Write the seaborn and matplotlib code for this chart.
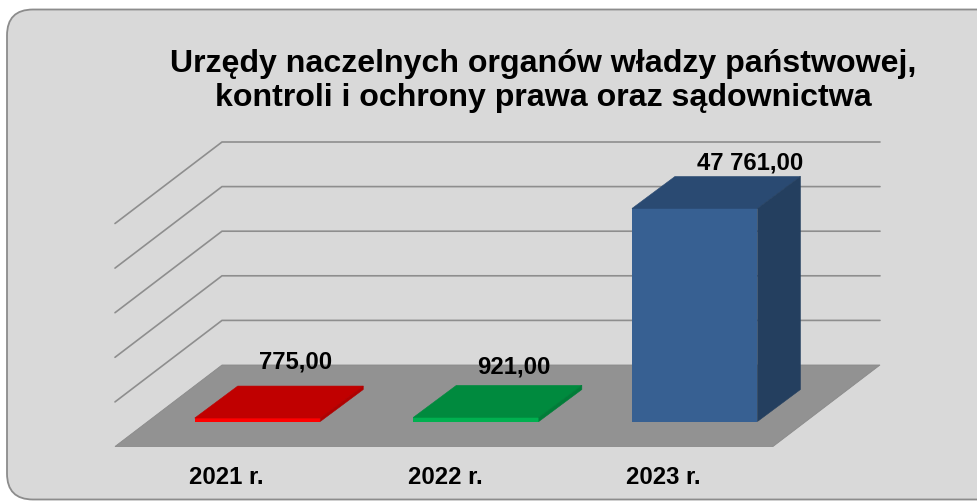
import matplotlib
matplotlib.use("Agg")
import matplotlib.pyplot as plt
import seaborn as sns
from matplotlib.patches import FancyBboxPatch, Polygon
from matplotlib.transforms import IdentityTransform, ScaledTranslation

# data
years = ["2021 r.", "2022 r.", "2023 r."]
values = [775.00, 921.00, 47761.00]
value_labels = ["775,00", "921,00", "47 761,00"]
grid_values = [0, 10000, 20000, 30000, 40000, 50000]
title = "Urzędy naczelnych organów władzy państwowej,\nkontroli i ochrony prawa oraz sądownictwa"

# styles
front_colors = ["#ff0000", "#00b050", "#376092"]
top_colors = ["#c00000", "#008a3e", "#2a4a72"]
side_colors = ["#b00000", "#007d38", "#243f5f"]
PANEL = "#d9d9d9"; FLOOR = "#929292"; GRID = "#8e8e8e"

W, H = 977, 501
fig = plt.figure(figsize=(W / 100, H / 100), dpi=100, facecolor="white")
sns.set_style("white")
plt.rcParams["font.family"] = ["Liberation Sans", "DejaVu Sans"]

# plot frame in pixels
L, R, T, B = 115.0, 880.0, 142.0, 446.5
ax = fig.add_axes([L / W, 1 - B / H, (R - L) / W, (B - T) / H])
ax.patch.set_alpha(0)
for s in ax.spines.values():
    s.set_visible(False)

PX_X = 218.6      # pixels per category
PX_Y = 0.00446    # pixels per unit value
C0 = 257.5        # pixel centre of category 0
Y0 = 421.5        # pixel of value 0 in the bar plane

panel = FancyBboxPatch((7, H - 499.5), 1040, 490, boxstyle="round,pad=0,rounding_size=26",
                       transform=IdentityTransform(), fc=PANEL, ec="#8c8c8c", lw=1.3, zorder=-5, clip_on=False)
fig.add_artist(panel)

sns.barplot(x=years, y=values, hue=years, palette=front_colors, saturation=1, width=125.5 / PX_X,
            legend=False, ax=ax, zorder=5, linewidth=0, edgecolor="none")
ax.set_xlim((L - C0) / PX_X, (R - C0) / PX_X)
ax.set_ylim((Y0 - B) / PX_Y, (Y0 - T) / PX_Y)
ax.set_yticks([])
ax.set_ylabel("")
ax.tick_params(axis="x", length=0, pad=14)
for lab in ax.get_xticklabels():
    lab.set_fontsize(17.2); lab.set_fontweight("bold"); lab.set_color("black")
    lab.set_transform(lab.get_transform() + ScaledTranslation(-31 / 100, 0, fig.dpi_scale_trans))

def xd(px): return px / PX_X
def yd(px): return px / PX_Y

# walls and floor: depth of the box relative to the bar plane
x_back_l = (222 - C0) / PX_X; x_back_r = (880 - C0) / PX_X
x_front_l = (115 - C0) / PX_X; x_front_r = (773 - C0) / PX_X
back_off = yd(Y0 - 365)      # raise of back wall base
front_off = yd(Y0 - 446.5)   # front edge of floor
for g in grid_values[1:]:
    ax.plot([x_front_l, x_back_l, x_back_r], [g + front_off, g + back_off, g + back_off],
            color=GRID, lw=1.2, zorder=1, clip_on=False, solid_joinstyle="miter")
ax.add_patch(Polygon([(x_front_l, front_off), (x_front_r, front_off), (x_back_r, back_off), (x_back_l, back_off)],
                     closed=True, fc=FLOOR, ec="#8a8a8a", lw=0.6, zorder=2, clip_on=False))

# bar depth faces, computed from each value
w = 125.5 / PX_X
dx, dy = xd(43), yd(32)
for i, v in enumerate(values):
    l, r = i - w / 2, i + w / 2
    ax.add_patch(Polygon([(l, v), (r, v), (r + dx, v + dy), (l + dx, v + dy)], closed=True,
                         fc=top_colors[i], ec=top_colors[i], lw=0.4, zorder=6, clip_on=False))
    ax.add_patch(Polygon([(r, 0), (r + dx, dy), (r + dx, v + dy), (r, v)], closed=True,
                         fc=side_colors[i], ec=side_colors[i], lw=0.4, zorder=6, clip_on=False))

# value labels
label_off = [(38.5, 56), (38, 50), (55.5, 45)]
for i, v in enumerate(values):
    ax.annotate(value_labels[i], (i, v), xytext=(label_off[i][0] * 0.72, label_off[i][1] * 0.72),
                textcoords="offset points", ha="center", va="center", fontsize=17.2, fontweight="bold",
                color="black", zorder=8, annotation_clip=False)

ax.set_title(title, x=(543.5 - L) / (R - L), y=1, pad=25.8, fontsize=23.15, fontweight="bold", color="black",
             linespacing=1.17, loc="center")

fig.savefig("out.png", dpi=100, facecolor="white")
